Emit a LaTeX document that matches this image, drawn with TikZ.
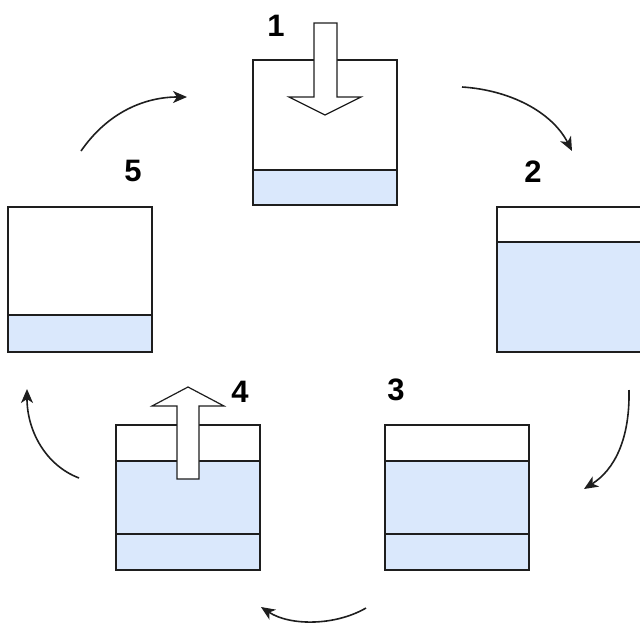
\documentclass[tikz,border=0pt]{standalone}
\usepackage{fontspec}
\setmainfont{Liberation Sans}
\usetikzlibrary{arrows.meta}
\definecolor{water}{HTML}{DAE8FC}
\definecolor{ink}{HTML}{1E1E1E}
\tikzset{
  tank/.style={draw=ink, line width=1.5pt, minimum width=144pt, minimum height=145pt, anchor=north west, inner sep=0pt, outer sep=0pt},
  waterfill/.style={fill=water},
  level/.style={draw=ink, line width=1.5pt},
  blockarrow/.style={draw=ink, fill=white, line width=1.2pt, line join=miter},
  flow/.style={draw=ink, line width=1.6pt, -{Stealth[length=14pt,width=12pt,inset=4pt]}},
  num/.style={font=\bfseries\fontsize{31}{31}\selectfont, text=black, inner sep=0pt}
}
\begin{document}
\begin{tikzpicture}[x=1pt,y=-1pt]
\useasboundingbox (0,0) rectangle (640,624);
% water fills
\fill[waterfill] (253,170) rectangle (397,205);
\fill[waterfill] (497,242) rectangle (641,352);
\fill[waterfill] (385,461) rectangle (529,570);
\fill[waterfill] (116,461) rectangle (260,570);
\fill[waterfill] (8,315) rectangle (152,352);
% tanks
\node[tank] (b1) at (253,60) {};
\node[tank] (b2) at (497,207) {};
\node[tank] (b3) at (385,425) {};
\node[tank] (b4) at (116,425) {};
\node[tank] (b5) at (8,207) {};
% water levels
\draw[level] (b1.west |- 0,170) -- (b1.east |- 0,170);
\draw[level] (b2.west |- 0,242) -- (b2.east |- 0,242);
\draw[level] (b3.west |- 0,461) -- (b3.east |- 0,461);
\draw[level] (b3.west |- 0,534) -- (b3.east |- 0,534);
\draw[level] (b4.west |- 0,461) -- (b4.east |- 0,461);
\draw[level] (b4.west |- 0,534) -- (b4.east |- 0,534);
\draw[level] (b5.west |- 0,315) -- (b5.east |- 0,315);
% block arrows
\draw[blockarrow] (314,23) -- (337,23) -- (337,97) -- (361,97) -- (325,115) -- (289,97) -- (314,97) -- cycle;
\draw[blockarrow] (177,479) -- (199,479) -- (199,406) -- (224,406) -- (188,387) -- (152,406) -- (177,406) -- cycle;
% labels
\node[num] (n1) at (276,26) {1};
\node[num] (n2) at (533,172) {2};
\node[num] (n3) at (396,390) {3};
\node[num] (n4) at (240,392) {4};
\node[num] (n5) at (133,171) {5};
% curved flow arrows
\coordinate (a1s) at (81,151); \coordinate (a1e) at (187,97);
\coordinate (a2s) at (462,87); \coordinate (a2e) at (572,151);
\coordinate (a3s) at (629,390); \coordinate (a3e) at (584,489);
\coordinate (a4s) at (366,608); \coordinate (a4e) at (261,607);
\coordinate (a5s) at (79,478); \coordinate (a5e) at (27,389);
\draw[flow] (a1s) .. controls (108,112) and (145,97) .. (a1e);
\draw[flow] (a2s) .. controls (510,90) and (552,112) .. (a2e);
\draw[flow] (a3s) .. controls (630,440) and (614,470) .. (a3e);
\draw[flow] (a4s) .. controls (335,626) and (290,626) .. (a4e);
\draw[flow] (a5s) .. controls (45,465) and (27,430) .. (a5e);
\end{tikzpicture}
\end{document}
